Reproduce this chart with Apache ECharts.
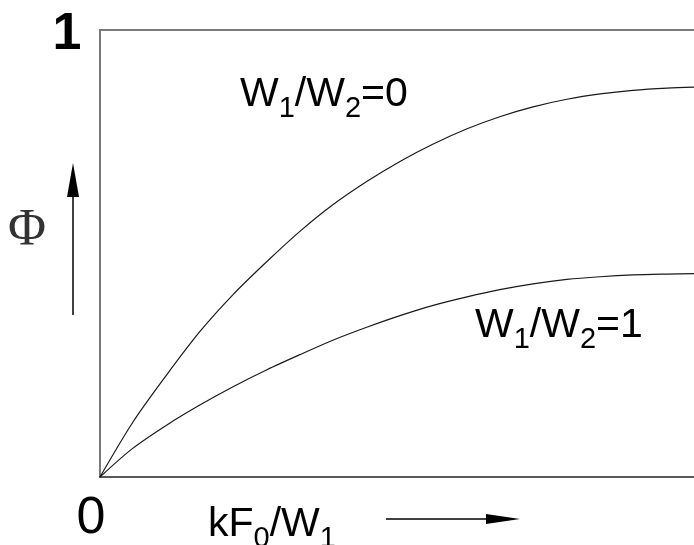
<!DOCTYPE html>
<html>
<head>
<meta charset="utf-8">
<script src="https://cdn.jsdelivr.net/npm/echarts@6/dist/echarts.min.js"></script>
<style>
  html, body { margin: 0; padding: 0; background: #fff; }
  #chart { width: 694px; height: 545px; }
</style>
</head>
<body>
<div id="chart"></div>
<script>
// kF0/W1 (scaled so the visible right edge is 1)
var xs = [0, 0.055, 0.112, 0.168, 0.224, 0.281, 0.337, 0.392, 0.449, 0.505, 0.561, 0.618, 0.673, 0.729, 0.786, 0.842, 0.897, 0.955, 1.0];
// W1/W2 = 0
var phi0 = [0, 0.122, 0.228, 0.325, 0.408, 0.482, 0.550, 0.609, 0.661, 0.706, 0.745, 0.779, 0.806, 0.828, 0.845, 0.857, 0.865, 0.870, 0.872];
// W1/W2 = 1
var phi1 = [0, 0.064, 0.116, 0.161, 0.202, 0.240, 0.274, 0.306, 0.335, 0.361, 0.384, 0.403, 0.419, 0.432, 0.442, 0.448, 0.452, 0.454, 0.455];

function pairs(ys) {
    return xs.map(function (x, i) { return [x, ys[i]]; });
}

var FONT = '"Liberation Sans", Arial, sans-serif';
var richLabel = {
    n: { fontSize: 41, fontFamily: FONT, color: '#000', verticalAlign: 'bottom', padding: [0, 0, 8, 0] },
    s: { fontSize: 29, fontFamily: FONT, color: '#000', verticalAlign: 'bottom' }
};

var chart = echarts.init(document.getElementById('chart'));
chart.setOption({
    animation: false,
    grid: { left: 100, top: 30, right: 0, bottom: 68 },
    xAxis: [
        {
            type: 'value', min: 0, max: 1, position: 'bottom',
            axisLine: { show: true, lineStyle: { color: '#222', width: 1.5 } },
            axisTick: { show: false }, axisLabel: { show: false }, splitLine: { show: false }
        },
        {
            type: 'value', min: 0, max: 1, position: 'top',
            axisLine: { show: true, lineStyle: { color: '#7a7a7a', width: 2 } },
            axisTick: { show: false }, axisLabel: { show: false }, splitLine: { show: false }
        }
    ],
    yAxis: {
        type: 'value', min: 0, max: 1,
        axisLine: { show: true, lineStyle: { color: '#7a7a7a', width: 2 } },
        axisTick: { show: false }, axisLabel: { show: false }, splitLine: { show: false }
    },
    series: [
        {
            type: 'line', data: pairs(phi0), smooth: 0.3, symbol: 'none',
            lineStyle: { color: '#1a1a1a', width: 1.2 }
        },
        {
            type: 'line', data: pairs(phi1), smooth: 0.3, symbol: 'none',
            lineStyle: { color: '#1a1a1a', width: 1.2 }
        }
    ],
    graphic: [
        { type: 'text', x: 67, y: 35, style: { text: '1', font: 'bold 52px ' + FONT, fill: '#000', align: 'center', verticalAlign: 'middle' } },
        { type: 'text', x: 91, y: 519, style: { text: '0', font: '52px ' + FONT, fill: '#000', align: 'center', verticalAlign: 'middle' } },
        { type: 'text', x: 27, y: 231, style: { text: 'Φ', font: '52px "Liberation Serif", "DejaVu Serif", serif', fill: '#333', align: 'center', verticalAlign: 'middle' } },
        // y axis arrow
        { type: 'line', shape: { x1: 73, y1: 315, x2: 73, y2: 190 }, style: { stroke: '#000', lineWidth: 1.5 } },
        { type: 'polygon', shape: { points: [[73, 163], [67, 197], [79, 197]] }, style: { fill: '#000' } },
        // x axis arrow
        { type: 'line', shape: { x1: 386, y1: 519, x2: 495, y2: 519 }, style: { stroke: '#000', lineWidth: 1.5 } },
        { type: 'polygon', shape: { points: [[520, 519], [486, 514], [486, 524]] }, style: { fill: '#000' } },
        // labels with subscripts
        { type: 'text', x: 208, y: 553, style: { text: '{n|kF}{s|0}{n|/W}{s|1}', rich: richLabel, verticalAlign: 'bottom' } },
        { type: 'text', x: 240, y: 123, style: { text: '{n|W}{s|1}{n|/W}{s|2}{n|=0}', rich: richLabel, verticalAlign: 'bottom' } },
        { type: 'text', x: 475, y: 354, style: { text: '{n|W}{s|1}{n|/W}{s|2}{n|=1}', rich: richLabel, verticalAlign: 'bottom' } }
    ]
});
</script>
</body>
</html>
